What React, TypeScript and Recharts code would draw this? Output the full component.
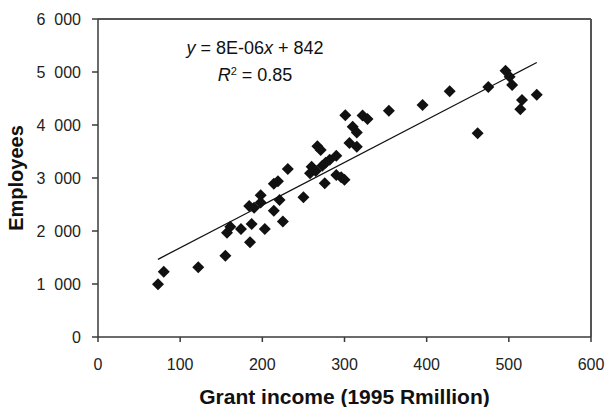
import React from 'react';
import {
  ScatterChart,
  Scatter,
  XAxis,
  YAxis,
  ReferenceLine,
  Label,
} from 'recharts';

// grant income (1995 Rmillion) vs employees
const grantIncome = [
  73, 80, 122, 155, 157, 161, 174, 185, 187, 184, 190, 198, 198, 203, 214, 221,
  225, 214, 219, 231, 250, 260, 258, 265, 273, 277, 282, 267, 271, 276, 290, 290,
  296, 300, 301, 306, 310, 315, 315, 322, 328, 354, 395, 428, 475, 496, 501, 504,
  516, 514, 534, 462,
];
const employees = [
  995, 1230, 1315, 1535, 1965, 2080, 2040, 1790, 2130, 2470, 2440, 2675, 2540,
  2040, 2380, 2585, 2180, 2890, 2940, 3170, 2635, 3210, 3090, 3130, 3230, 3290,
  3345, 3600, 3530, 2900, 3420, 3057, 3013, 2965, 4185, 3660, 3965, 3860, 3591,
  4180, 4113, 4270, 4377, 4635, 4717, 5025, 4912, 4755, 4472, 4296, 4572, 3843,
];

// fitted line y = 8E-06x + 842, endpoints as drawn
const trendX = [73, 534];
const trendY = [1466, 5180];

const xTicks = [0, 100, 200, 300, 400, 500, 600];
const yTicks = [0, 1000, 2000, 3000, 4000, 5000, 6000];

const points = grantIncome.map((x, i) => ({ x, y: employees[i] }));
const trend = trendX.map((x, i) => ({ x, y: trendY[i] }));

const FONT = '"Liberation Sans", Arial, sans-serif';
const AXIS = '#3a3a3a';

const fmtY = (v: number) =>
  v >= 1000 ? `${Math.floor(v / 1000)}\u2007${String(v % 1000).padStart(3, '0')}` : String(v);

const Diamond = (props: any) => {
  const { cx, cy } = props;
  const r = 6;
  return (
    <polygon
      points={`${cx},${cy - r} ${cx + r},${cy} ${cx},${cy + r} ${cx - r},${cy}`}
      fill="#111"
    />
  );
};

export default function App() {
  return (
    <div style={{ position: 'absolute', left: 0, top: 0, width: 605, height: 407, background: '#fff' }}>
      <ScatterChart
        width={605}
        height={407}
        margin={{ top: 19, right: 14, bottom: 0, left: 0 }}
        style={{ fontFamily: FONT }}
      >
        <XAxis
          type="number"
          dataKey="x"
          domain={[0, 600]}
          ticks={xTicks}
          height={70}
          tickSize={5}
          tickMargin={17}
          stroke={AXIS}
          strokeWidth={1.5}
          tick={{ fill: '#222', fontSize: 16, fontFamily: FONT }}
        >
          <Label
            value="Grant income (1995 Rmillion)"
            position="insideBottom"
            offset={3}
            style={{ fontSize: 21, fontWeight: 700, fill: '#111', fontFamily: FONT }}
          />
        </XAxis>
        <YAxis
          type="number"
          dataKey="y"
          domain={[0, 6000]}
          ticks={yTicks}
          width={98}
          tickSize={6}
          tickMargin={11}
          stroke={AXIS}
          strokeWidth={1.5}
          tickFormatter={fmtY}
          tick={{ fill: '#222', fontSize: 16, fontFamily: FONT }}
        >
          <Label
            value="Employees"
            angle={-90}
            position="insideLeft"
            offset={16}
            style={{ fontSize: 20, fontWeight: 700, fill: '#111', fontFamily: FONT, textAnchor: 'middle' }}
          />
        </YAxis>
        <ReferenceLine y={6000} stroke="#555" strokeWidth={2} />
        <ReferenceLine x={600} stroke="#555" strokeWidth={2} />
        <Scatter
          data={trend}
          line={{ stroke: '#111', strokeWidth: 1.3 }}
          shape={() => null}
          isAnimationActive={false}
        />
        <Scatter data={points} shape={Diamond} isAnimationActive={false} />
      </ScatterChart>
      <div
        style={{
          position: 'absolute',
          left: 145,
          width: 220,
          top: 35,
          textAlign: 'center',
          fontFamily: FONT,
          fontSize: 18,
          color: '#111',
          lineHeight: '27px',
        }}
      >
        <div>
          <i>y</i> = 8E-06<i>x</i> + 842
        </div>
        <div>
          <i>R</i>
          <sup style={{ fontSize: 11, verticalAlign: 'top', lineHeight: '18px' }}>2</sup> = 0.85
        </div>
      </div>
    </div>
  );
}
